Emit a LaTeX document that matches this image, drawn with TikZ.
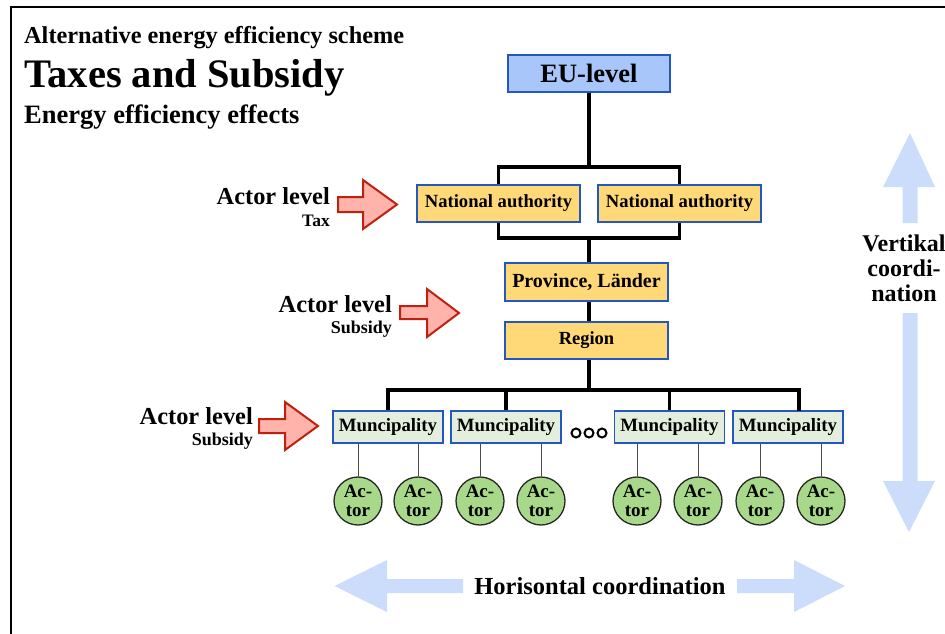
\documentclass[tikz,border=0pt]{standalone}
\usepackage{fontspec}
\setmainfont{Liberation Serif}
\definecolor{eufill}{HTML}{A9C6FA}
\definecolor{boxblue}{HTML}{2457C0}
\definecolor{gold}{HTML}{FFD878}
\definecolor{mfill}{HTML}{E3EEDC}
\definecolor{actfill}{HTML}{A8D98A}
\definecolor{pinkfill}{HTML}{FFB3AB}
\definecolor{redline}{HTML}{C02010}
\definecolor{ltblue}{HTML}{CBDDFB}
\tikzset{
  fs/.style={font=\fontsize{#1}{#1}\selectfont\bfseries},
  box/.style={draw=boxblue, line width=1.4pt, inner sep=0pt},
  eubox/.style={box, fill=eufill, minimum width=162pt, minimum height=37pt, fs=26.5},
  nabox/.style={box, fill=gold, minimum width=163pt, minimum height=37pt, fs=18.6},
  mbox/.style={box, fill=mfill, minimum width=110pt, minimum height=32pt, fs=18.8},
  actor/.style={circle, draw=black!85, line width=1.3pt, fill=actfill, minimum size=48pt, inner sep=0pt, align=center, font=\fontsize{19}{19}\selectfont\bfseries},
  tree/.style={line width=3.3pt, black},
  thin/.style={line width=0.9pt, black!70},
  redarrow/.style={fill=pinkfill, draw=redline, line width=2pt, line join=miter},
  bluearrow/.style={fill=ltblue, draw=none},
  lbl/.style={inner sep=0pt, anchor=east},
}
\begin{document}
\begin{tikzpicture}[x=1pt, y=-1pt]
\useasboundingbox (0,0) rectangle (945,634);
\draw[line width=2pt] (11,640) -- (11,7) -- (950,7);

% titles
\node[fs=24.3, anchor=base west, inner sep=0pt] (t1) at (24,44) {Alternative energy efficiency scheme};
\node[fs=40.5, anchor=base west, inner sep=0pt] (t2) at (24,88) {Taxes and Subsidy};
\node[fs=26.5, anchor=base west, inner sep=0pt] (t3) at (24,123) {Energy efficiency effects};

% boxes
\node[eubox] (eu) at (589,73.5) {EU-level};
\node[nabox] (na1) at (498.5,203.5) {National authority};
\node[nabox] (na2) at (679.5,203.5) {National authority};
\node[nabox, fs=20, minimum height=38pt] (prov) at (586.5,282) {Province, Länder};
\node[nabox, fs=18.5] (reg) at (586.5,340.5) {Region};
\node[mbox] (m1) at (388,427) {Muncipality};
\node[mbox] (m2) at (506,427) {Muncipality};
\node[mbox] (m3) at (669.5,427) {Muncipality};
\node[mbox] (m4) at (788,427) {Muncipality};

% dots
\foreach \x/\n in {576/d1,589/d2,602/d3}
  \node[circle, draw=black, line width=2pt, minimum size=9pt, inner sep=0pt] (\n) at (\x,433) {};

% tree
\coordinate (j1) at (589,167);
\coordinate (j2) at (589,238);
\coordinate (j3) at (589,390);
\coordinate (m4top) at (799,411);
\draw[tree] (eu.south) -- (j1);
\draw[tree] (na1.north) |- (j1) -| (na2.north);
\draw[tree] (na1.south) |- (j2) -| (na2.south);
\draw[tree] (j2) -- (prov.north -| j2);
\draw[tree] (prov.south -| j2) -- (reg.north -| j2);
\draw[tree] (reg.south -| j3) -- (j3);
\draw[tree] (m1.north) |- (j3) -| (m4top);
\draw[tree] (m2.north) -- (m2.north |- j3);
\draw[tree] (m3.north) -- (m3.north |- j3);

% actors
\foreach \x/\n/\m in {358/a1/m1,418/a2/m1,480/a3/m2,541/a4/m2,637/a5/m3,698/a6/m3,760/a7/m4,821/a8/m4}{
  \node[actor] (\n) at (\x,501) {Ac-\\tor};
  \draw[thin] (\n.north) -- (\n.north |- \m.south);
}

% actor level labels
\node[lbl, fs=24.4] (al1) at (330,196) {Actor level};
\node[lbl, fs=17.5] (sl1) at (330,221) {Tax};
\node[lbl, fs=24.4] (al2) at (392,304) {Actor level};
\node[lbl, fs=18] (sl2) at (392,329) {Subsidy};
\node[lbl, fs=24.4] (al3) at (253,416) {Actor level};
\node[lbl, fs=18] (sl3) at (253,441) {Subsidy};

% red block arrows
\draw[redarrow] (338,197) -- (363,197) -- (363,180) -- (397,204.5) -- (363,229) -- (363,212) -- (338,212) -- cycle;
\draw[redarrow] (400,306) -- (427,306) -- (427,289) -- (459,313) -- (427,337) -- (427,319) -- (400,319) -- cycle;
\draw[redarrow] (259,419) -- (285,419) -- (285,402) -- (318,426) -- (285,450) -- (285,433) -- (259,433) -- cycle;

% vertical coordination arrow
\fill[bluearrow] (910,133) -- (935,187) -- (917.5,187) -- (917.5,223) -- (902.5,223) -- (902.5,187) -- (883,187) -- cycle;
\fill[bluearrow] (902.5,313) -- (917.5,313) -- (917.5,481) -- (935,481) -- (909,532) -- (883,481) -- (902.5,481) -- cycle;
\node[fs=24, align=center, inner sep=0pt] (vc) at (904,268) {Vertikal\\[1pt]coordi-\\[1pt]nation};

% horizontal coordination arrow
\fill[bluearrow] (334.5,586) -- (387,560) -- (387,579) -- (463,579) -- (463,593) -- (387,593) -- (387,612) -- cycle;
\fill[bluearrow] (845,586) -- (794,560) -- (794,579) -- (737,579) -- (737,593) -- (794,593) -- (794,612) -- cycle;
\node[fs=24.5, inner sep=0pt] (hc) at (600,586) {Horisontal coordination};
\end{tikzpicture}
\end{document}
